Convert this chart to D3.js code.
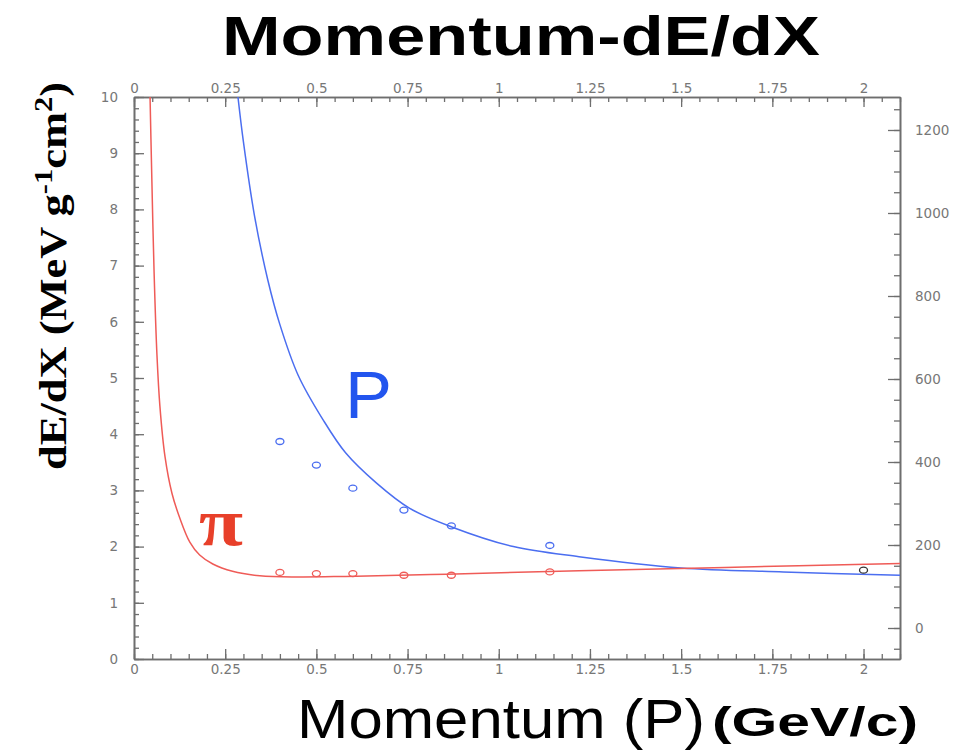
<!DOCTYPE html>
<html><head><meta charset="utf-8">
<script src="https://cdn.jsdelivr.net/npm/d3@7"></script>
<style>
html,body{margin:0;padding:0;background:#fff;}
svg{display:block;}
</style></head>
<body>
<svg id="chart" width="974" height="753"></svg>
<script>
// ---- data ----
const xTickValues = [0, 0.25, 0.5, 0.75, 1, 1.25, 1.5, 1.75, 2];
const xTickLabels = ["0", "0.25", "0.5", "0.75", "1", "1.25", "1.5", "1.75", "2"];
const yTickValues = [0,1,2,3,4,5,6,7,8,9,10];
const yRightTickValues = [0, 200, 400, 600, 800, 1000, 1200];

// proton fit curve (momentum GeV/c, dE/dX)
const protonCurveP = [0.285, 0.30, 0.33, 0.367, 0.40, 0.45, 0.518, 0.58, 0.665, 0.756, 0.871, 1.04, 1.22, 1.50, 1.78, 2.1];
const protonCurveE = [10, 9.2, 7.9, 6.74, 5.95, 5.05, 4.26, 3.67, 3.13, 2.68, 2.35, 2.0, 1.82, 1.62, 1.55, 1.49];
// pion fit curve
const pionCurveP = [0.044, 0.048, 0.055, 0.063, 0.071, 0.085, 0.104, 0.126, 0.153, 0.18, 0.216, 0.27, 0.345, 0.45, 0.58, 0.857, 1.22, 1.62, 2.1];
const pionCurveE = [10, 8.8, 6.9, 5.4, 4.5, 3.6, 2.95, 2.5, 2.08, 1.85, 1.69, 1.56, 1.48, 1.46, 1.47, 1.51, 1.57, 1.63, 1.70];
// measured points
const protonPointsP = [0.40, 0.50, 0.60, 0.74, 0.87, 1.14];
const protonPointsE = [3.87, 3.45, 3.04, 2.65, 2.37, 2.02];
const pionPointsP = [0.40, 0.50, 0.60, 0.74, 0.87, 1.14];
const pionPointsE = [1.54, 1.52, 1.52, 1.49, 1.49, 1.55];
const otherPointP = [2.0];
const otherPointE = [1.58];

// ---- layout ----
const svg = d3.select("#chart");
const L = 134, R = 900, T = 97, B = 659;
const x = d3.scaleLinear().domain([0, 2.1]).range([L, R]);
const y = d3.scaleLinear().domain([0, 10]).range([B, T]);
const yR = d3.scaleLinear().domain([-74.7, 1279.5]).range([B, T]);

const axisColor = "#6e6e6e";
const labelColor = "#777";
const minorX = d3.range(0, 43).map(i => +(i * 0.05).toFixed(2)).filter(v => v <= 2.1);
const minorY = d3.range(0, 51).map(i => +(i * 0.2).toFixed(1));
const minorYR = d3.range(-50, 1300, 50).filter(v => v >= -74 && v <= 1279);

function styleAxis(g){
  g.selectAll("path.domain").attr("stroke", axisColor).attr("stroke-width", 1.6);
  g.selectAll(".tick line").attr("stroke", axisColor).attr("stroke-width", 1.3);
  g.selectAll(".tick text").attr("fill", labelColor)
    .style("font-family", "'DejaVu Sans', Verdana, sans-serif").style("font-size", "13.5px");
}
const fmt = d => xTickLabels[xTickValues.indexOf(d)];

// minor axes
svg.append("g").attr("transform", `translate(0,${B})`)
  .call(d3.axisBottom(x).tickValues(minorX).tickFormat("").tickSizeInner(-5).tickSizeOuter(0)).call(styleAxis);
svg.append("g").attr("transform", `translate(0,${T})`)
  .call(d3.axisTop(x).tickValues(minorX).tickFormat("").tickSizeInner(-5).tickSizeOuter(0)).call(styleAxis);
svg.append("g").attr("transform", `translate(${L},0)`)
  .call(d3.axisLeft(y).tickValues(minorY).tickFormat("").tickSizeInner(-5).tickSizeOuter(0)).call(styleAxis);
svg.append("g").attr("transform", `translate(${R},0)`)
  .call(d3.axisRight(yR).tickValues(minorYR).tickFormat("").tickSizeInner(-6).tickSizeOuter(0)).call(styleAxis);

// major axes
svg.append("g").attr("transform", `translate(0,${B})`)
  .call(d3.axisBottom(x).tickValues(xTickValues).tickFormat(fmt).tickSizeInner(-10).tickSizeOuter(0).tickPadding(5)).call(styleAxis);
svg.append("g").attr("transform", `translate(0,${T})`)
  .call(d3.axisTop(x).tickValues(xTickValues).tickFormat(fmt).tickSizeInner(-10).tickSizeOuter(0).tickPadding(4)).call(styleAxis);
svg.append("g").attr("transform", `translate(${L},0)`)
  .call(d3.axisLeft(y).tickValues(yTickValues).tickFormat(d3.format("d")).tickSizeInner(-10).tickSizeOuter(0).tickPadding(16)).call(styleAxis);
svg.append("g").attr("transform", `translate(${R},0)`)
  .call(d3.axisRight(yR).tickValues(yRightTickValues).tickFormat(d3.format("d")).tickSizeInner(-12).tickSizeOuter(0).tickPadding(15)).call(styleAxis);

// clip
svg.append("clipPath").attr("id", "clip").append("rect")
  .attr("x", L).attr("y", T).attr("width", R - L).attr("height", B - T);

const line = d3.line().x(d => x(d[0])).y(d => y(d[1])).curve(d3.curveCatmullRom.alpha(0.5));
const plot = svg.append("g").attr("clip-path", "url(#clip)");

const blue = "#4b6ef0", red = "#ef5b57";
plot.append("path").datum(protonCurveP.map((p, i) => [p, protonCurveE[i]]))
  .attr("d", line).attr("fill", "none").attr("stroke", blue).attr("stroke-width", 1.5);
plot.append("path").datum(pionCurveP.map((p, i) => [p, pionCurveE[i]]))
  .attr("d", line).attr("fill", "none").attr("stroke", red).attr("stroke-width", 1.5);

function pts(P, E, color){
  plot.selectAll(null).data(P.map((p, i) => [p, E[i]])).enter().append("ellipse")
    .attr("cx", d => x(d[0])).attr("cy", d => y(d[1]))
    .attr("rx", 4).attr("ry", 3).attr("fill", "none").attr("stroke", color).attr("stroke-width", 1.3);
}
pts(protonPointsP, protonPointsE, blue);
pts(pionPointsP, pionPointsE, red);
pts(otherPointP, otherPointE, "#333");

// labels inside plot
svg.append("text").attr("x", 345).attr("y", 418).text("P")
  .attr("textLength", 47).attr("lengthAdjust", "spacingAndGlyphs")
  .attr("fill", "#2255ee").style("font-family", "'Liberation Sans', Arial, sans-serif").style("font-size", "66px");
svg.append("text").attr("x", 199).attr("y", 545).text("π")
  .attr("textLength", 44).attr("lengthAdjust", "spacingAndGlyphs")
  .attr("fill", "#e8402a").style("font-family", "'Liberation Serif', 'Times New Roman', serif").style("font-size", "68px").style("font-weight", "bold");

// title
svg.append("text").attr("x", 222).attr("y", 55).text("Momentum-dE/dX")
  .attr("textLength", 598).attr("lengthAdjust", "spacingAndGlyphs")
  .attr("fill", "#000").style("font-family", "'Liberation Sans', Arial, sans-serif")
  .style("font-size", "56px").style("font-weight", "bold");

// x label
svg.append("text").attr("x", 297).attr("y", 738).text("Momentum (P)")
  .attr("textLength", 408).attr("lengthAdjust", "spacingAndGlyphs")
  .attr("fill", "#000").style("font-family", "'Liberation Sans Narrow', 'Liberation Sans', Arial, sans-serif")
  .style("font-size", "56px");
svg.append("text").attr("x", 712).attr("y", 736).text("(GeV/c)")
  .attr("textLength", 206).attr("lengthAdjust", "spacingAndGlyphs")
  .attr("fill", "#000").style("font-family", "'Liberation Sans', Arial, sans-serif")
  .style("font-size", "40px").style("font-weight", "bold");

// y label (rotated)
const yl = svg.append("text").attr("transform", "translate(66,470) rotate(-90)")
  .attr("textLength", 388).attr("lengthAdjust", "spacingAndGlyphs")
  .attr("fill", "#000").style("font-family", "'Liberation Serif', 'Times New Roman', serif")
  .style("font-size", "38px").style("font-weight", "bold");
yl.append("tspan").text("dE/dX (MeV g");
yl.append("tspan").attr("dy", -14).style("font-size", "26px").text("-1");
yl.append("tspan").attr("dy", 14).text("cm");
yl.append("tspan").attr("dy", -14).style("font-size", "26px").text("2");
yl.append("tspan").attr("dy", 14).text(")");
</script>
</body></html>
